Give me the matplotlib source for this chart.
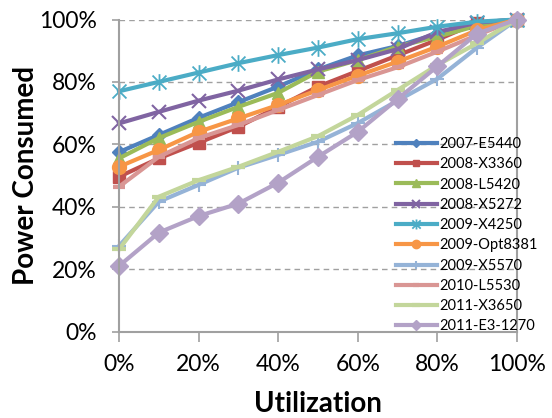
import matplotlib
matplotlib.use("Agg")
import matplotlib.pyplot as plt
from matplotlib.path import Path
from matplotlib.ticker import PercentFormatter

plt.rcParams['font.family'] = ['Lato', 'DejaVu Sans']

util = [0, 10, 20, 30, 40, 50, 60, 70, 80, 90, 100]

names = ["2007-E5440", "2008-X3360", "2008-L5420", "2008-X5272", "2009-X4250",
         "2009-Opt8381", "2009-X5570", "2010-L5530", "2011-X3650", "2011-E3-1270"]

e5440 = [57.5, 63, 68.5, 73.5, 78.5, 84, 88.5, 91.5, 95.5, 98.5, 100]
x3360 = [49.6, 55.5, 60.5, 65.6, 72, 78.5, 83.5, 88.5, 93.5, 99, 100]
l5420 = [55.5, 62, 67.2, 72, 76.5, 83.3, 87, 91.3, 94.5, 98, 100]
x5272 = [66.7, 70.4, 74, 77.2, 80.8, 84, 87, 90.5, 96, 99, 100]
x4250 = [77, 80, 83, 86, 88.6, 91, 93.7, 95.6, 97.7, 99.3, 100]
opt8381 = [52.8, 58.2, 64, 68.3, 72.6, 77.4, 82, 86.5, 91.3, 96.6, 100]
x5570 = [27.4, 41.6, 47, 52.5, 56.6, 60.8, 66.8, 74, 81, 91, 100]
l5530 = [46.4, 56, 62, 66.2, 71, 75.8, 80.6, 84.7, 89.7, 95, 100]
x3650 = [26.3, 43.2, 48.5, 52.8, 57.6, 62.6, 69.4, 77.4, 85.4, 92.4, 100]
e3_1270 = [21, 31.7, 37, 41, 47.7, 56, 64, 74.5, 85, 95.5, 100]

series = [e5440, x3360, l5420, x5272, x4250, opt8381, x5570, l5530, x3650, e3_1270]

# excel style star: an x with a vertical bar through it
star = Path([(-1, -1), (1, 1), (-1, 1), (1, -1), (0, -1.2), (0, 1.2)],
            [Path.MOVETO, Path.LINETO, Path.MOVETO, Path.LINETO, Path.MOVETO, Path.LINETO])

colors = ["#4F81BD", "#C0504D", "#9BBB59", "#8064A2", "#4BACC6",
          "#F79646", "#95B3D7", "#D99694", "#C3D69B", "#B3A2C7"]
markers = ["D", "s", "^", "x", star, "o", "+", "_", "_", "D"]
msizes = [7, 8, 9, 10, 12, 10, 10, 8, 10, 9]

fig = plt.figure(figsize=(5.52, 4.18), dpi=100)
ax = fig.add_axes([119 / 552, 1 - 331.5 / 418, (517 - 119) / 552, (331.5 - 19.5) / 418])

for vals, name, c, m, ms in zip(series, names, colors, markers, msizes):
    mk = dict(marker=m, markersize=ms, markerfacecolor=c, markeredgecolor=c)
    if m is star:
        mk["markeredgewidth"] = 1.3
        mk["markerfacecolor"] = "none"
    elif m in ("x", "+"):
        mk["markeredgewidth"] = 1.5
    elif m == "_":
        mk["markeredgewidth"] = 3
    ax.plot(util, vals, color=c, lw=3, label=name, clip_on=False, **mk)

ax.set_xlim(0, 100)
ax.set_ylim(0, 100)
ax.set_xticks(range(0, 101, 20))
ax.set_yticks(range(0, 101, 20))
ax.xaxis.set_major_formatter(PercentFormatter(100, decimals=0))
ax.yaxis.set_major_formatter(PercentFormatter(100, decimals=0))
ax.tick_params(axis="x", length=7, width=1.2, color="#a0a0a0", labelsize=16.5, pad=9)
ax.tick_params(axis="y", length=5, width=1.2, color="#a0a0a0", labelsize=16.5, pad=11)

ax.grid(axis="y", linestyle=(0, (4, 3)), color="#a0a0a0", lw=1)
ax.set_axisbelow(True)
ax.spines["top"].set_visible(False)
for s in ("left", "bottom", "right"):
    ax.spines[s].set_color("#a0a0a0")
    ax.spines[s].set_linewidth(1.5)

ax.set_xlabel("Utilization", fontsize=20, fontweight="bold", va="center")
ax.set_ylabel("Power Consumed", fontsize=20, fontweight="bold", va="center")
ax.xaxis.set_label_coords(0.5, (331.5 - 404) / 312)
ax.yaxis.set_label_coords((26 - 119) / 398, 0.5)

leg = ax.legend(loc="upper left", bbox_to_anchor=(396 / 552, 1 - 137 / 418),
                bbox_transform=fig.transFigure, frameon=False, fontsize=10.5,
                handlelength=2.8, handletextpad=0.2, labelspacing=0.43,
                borderpad=0, borderaxespad=0, markerscale=0.6)

fig.savefig("out.png", dpi=100)
